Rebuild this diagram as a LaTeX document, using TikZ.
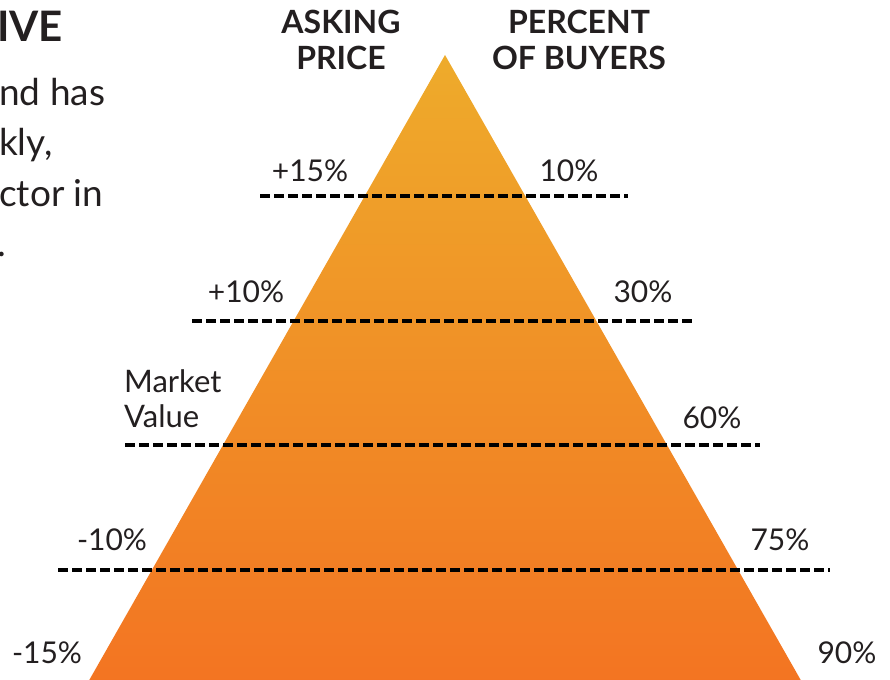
\documentclass[tikz,border=0pt]{standalone}
\usepackage{fontspec}
\setmainfont{Lato}
\definecolor{txt}{HTML}{231F20}
\definecolor{topc}{HTML}{EEAB2B}
\definecolor{botc}{HTML}{F37422}
\tikzset{
  lbl/.style={anchor=base, inner sep=0pt, text=txt, font=\fontsize{30}{36}\selectfont},
  head/.style={anchor=base, inner sep=0pt, text=txt, font=\bfseries\fontsize{32}{38}\selectfont},
  body/.style={anchor=base west, inner sep=0pt, text=txt, font=\fontsize{37}{50}\selectfont},
  dashline/.style={draw=black, line width=3.3pt, dash pattern=on 10pt off 4pt},
}
\begin{document}
\begin{tikzpicture}[x=1pt, y=-1pt]
\useasboundingbox (0,0) rectangle (890,679);
% pyramid
\coordinate (apex) at (445,55);
\coordinate (bl) at (87,684);
\coordinate (br) at (803,684);
\shade[top color=topc, bottom color=botc] (apex) -- (br) -- (bl) -- cycle;
% dashed levels
\coordinate (l1a) at (260,196); \coordinate (l1b) at (628,196);
\coordinate (l2a) at (192,321); \coordinate (l2b) at (694,321);
\coordinate (l3a) at (125,445); \coordinate (l3b) at (760,445);
\coordinate (l4a) at (58,570);  \coordinate (l4b) at (830,570);
\draw[dashline] (l1a) -- (l1b);
\draw[dashline] (l2a) -- (l2b);
\draw[dashline] (l3a) -- (l3b);
\draw[dashline] (l4a) -- (l4b);
% headings
\node[head] (ask1) at (341,34) {ASKING};
\node[head] (ask2) at (341,70) {PRICE};
\node[head] (per1) at (579,34) {PERCENT};
\node[head] (per2) at (579,70) {OF BUYERS};
% cut-off text on the left
\node[anchor=base west, inner sep=0pt, text=txt, font=\bfseries\fontsize{42}{50}\selectfont] (ttl) at (-3,42) {IVE};
\node[body] (b1) at (-1,106) {nd has};
\node[body] (b2) at (-1,156) {kly,};
\node[body] (b3) at (-1,206) {ctor in};
\node[body] (b4) at (-3,256) {.};
% labels
\node[lbl] (p15) at (310,181) {+15\%};
\node[lbl] (q10) at (569,181) {10\%};
\node[lbl] (p10) at (246,302) {+10\%};
\node[lbl] (q30) at (643,302) {30\%};
\node[lbl, anchor=base west, font=\fontsize{31}{36}\selectfont] (mk1) at (124,392) {Market};
\node[lbl, anchor=base west, font=\fontsize{31}{36}\selectfont] (mk2) at (124,427) {Value};
\node[lbl] (q60) at (712,428) {60\%};
\node[lbl] (m10) at (112,550) {-10\%};
\node[lbl] (q75) at (780,550) {75\%};
\node[lbl] (m15) at (47,663) {-15\%};
\node[lbl] (q90) at (847,663) {90\%};
\end{tikzpicture}
\end{document}
